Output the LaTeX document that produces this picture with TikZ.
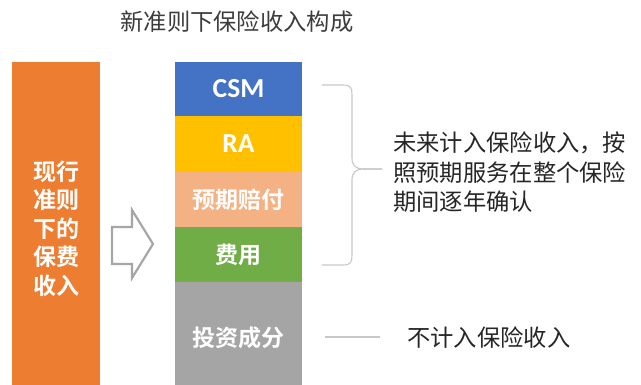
\documentclass[tikz,border=0pt]{standalone}
\usepackage{fontspec}
\setmainfont{Noto Sans CJK SC}
\newfontfamily\cjk{Noto Sans CJK SC}
\newfontfamily\cjkb{Noto Sans CJK SC Bold}
\newfontfamily\latb{Carlito}[BoldFont={Carlito Bold}]
\definecolor{cblue}{HTML}{4472C4}
\definecolor{cyellow}{HTML}{FFC000}
\definecolor{cpeach}{HTML}{F4B183}
\definecolor{cgreen}{HTML}{70AD47}
\definecolor{cgray}{HTML}{A5A5A5}
\definecolor{corange}{HTML}{ED7D31}
\definecolor{ctext}{HTML}{262626}
\definecolor{cline}{HTML}{C8C8C8}
\definecolor{carrow}{HTML}{A6A6A6}
\tikzset{
  block/.style={draw=none, inner sep=0pt},
  wlabel/.style={text=white, inner sep=0pt, font=\cjkb\fontsize{23}{28.5}\selectfont},
  wlatin/.style={text=white, inner sep=0pt, font=\latb\bfseries\fontsize{27.5}{30}\selectfont},
  dtext/.style={text=ctext, inner sep=0pt, font=\cjk\fontsize{23.3}{29.5}\selectfont},
  bracestyle/.style={draw=cline, line width=1.1pt},
  linestyle/.style={draw=cline, line width=1.3pt},
}
\begin{document}
\begin{tikzpicture}[x=1pt,y=-1pt]
\useasboundingbox[fill=white] (0,0) rectangle (641,385);
% title
\node[dtext, text=ctext!90] (title) at (237,22) {新准则下保险收入构成};
% orange bar
\fill[corange] (12,62) rectangle (100,385);
\node[wlabel, align=center] (old) at (57,228.5) {现行\\准则\\下的\\保费\\收入};
% arrow
\draw[carrow, line width=2.2pt, line join=miter, fill=white]
  (112,227) -- (132,227) -- (132,210) -- (153,244) -- (132,278) -- (132,264) -- (112,264) -- cycle;
\coordinate (arrowc) at (132,244);
% stack
\fill[cblue] (175,62) rectangle (302,116);
\fill[cyellow] (175,116) rectangle (302,172);
\fill[cpeach] (175,172) rectangle (302,227);
\fill[cgreen] (175,227) rectangle (302,282);
\fill[cgray] (175,282) rectangle (302,385);
\node[wlatin] (csm) at (238.5,89) {CSM};
\node[wlatin] (ra) at (238.5,144) {RA};
\node[wlabel] (claims) at (238.5,200) {预期赔付};
\node[wlabel] (fees) at (238.5,255) {费用};
\node[wlabel] (inv) at (238.5,338) {投资成分};
% brace
\coordinate (btop) at (322,85);
\coordinate (btip) at (382,169);
\coordinate (bbot) at (322,265);
\draw[bracestyle] (btop) -- (343,85) .. controls (351,85) and (352,88) .. (352,95)
  -- (352,158) .. controls (352,166) and (356,169) .. (364,169) -- (btip);
\draw[bracestyle] (btip) -- (364,169) .. controls (356,169) and (352,172) .. (352,180)
  -- (352,255) .. controls (352,262) and (351,265) .. (343,265) -- (bbot);
% right texts
\node[dtext, anchor=west, align=left] (future) at (393,172.5) {未来计入保险收入，按\\照预期服务在整个保险\\期间逐年确认};
\coordinate (l1) at (325,337);
\coordinate (l2) at (380,337);
\draw[linestyle] (l1) -- (l2);
\node[dtext, anchor=west] (notinc) at (407,338) {不计入保险收入};
\end{tikzpicture}
\end{document}
